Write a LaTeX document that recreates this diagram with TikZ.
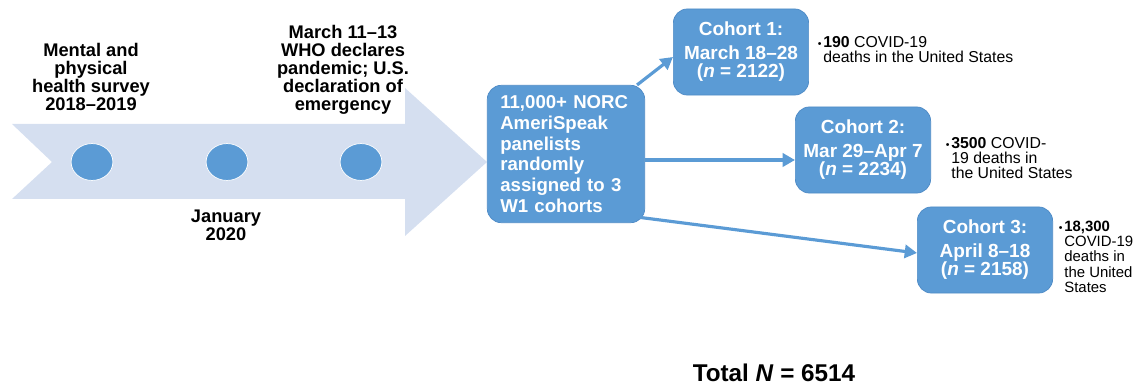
\documentclass[tikz,border=0pt]{standalone}
\usepackage{fontspec}
\setmainfont{Liberation Sans}
\usepackage{tikz}
\usetikzlibrary{positioning,calc,arrows.meta,shapes.geometric}
\definecolor{panelblue}{HTML}{5B9BD5}
\definecolor{timelineblue}{HTML}{D5DFF0}
\definecolor{edgeblue}{HTML}{4F8BC6}

\begin{document}
\begin{tikzpicture}[x=0.02cm,y=-0.02cm,
	event/.style={align=center,inner sep=0pt,font=\fontsize{10.4}{10.2}\selectfont\bfseries},
	dot/.style={ellipse,minimum width=23.8pt,minimum height=21pt,inner sep=0pt,fill=panelblue,draw=white,thin},
	cohort/.style={rectangle,rounded corners=8pt,fill=panelblue,draw=edgeblue,line width=0.4pt,minimum width=77pt,minimum height=49pt,align=center,text=white,font=\fontsize{10.8}{10.5}\selectfont\bfseries},
	deaths/.style={anchor=north west,align=left,inner sep=0pt,font=\fontsize{9}{8.6}\selectfont},
	flow/.style={panelblue,line width=1.8pt,-{Triangle[length=7pt,width=7.5pt]}}]

	\useasboundingbox (0,0) rectangle (1137,385);

	% timeline arrow
	\fill[timelineblue] (12,124) -- (405,124) -- (405,88) -- (487,162) -- (405,236) -- (405,199) -- (12,199) -- (52,162) -- cycle;

	\node[dot] (d1) at (92,162) {};
	\node[dot] (d2) at (227,162) {};
	\node[dot] (d3) at (361,162) {};

	\node[event,anchor=north] (survey) at (91,43) {Mental and\\physical\\health survey\\2018\textendash2019};
	\node[event,anchor=north] (january) at (226,210) {January\\2020};
	\node[event,anchor=north] (who) at (343,25) {March 11\textendash13\\WHO declares\\pandemic; U.S.\\declaration of\\emergency};

	% panel and cohorts
	\node[rectangle,rounded corners=8pt,fill=panelblue,draw=edgeblue,line width=0.4pt,minimum width=89.6pt,minimum height=78.2pt,text width=74.8pt,inner xsep=7.4pt,align=left,text=white,font=\fontsize{10.6}{11.8}\selectfont\bfseries] (nrc) at (566,154) {11,000+ NORC\\AmeriSpeak\\panelists\\randomly\\assigned to 3\\W1 cohorts};

	\node[cohort] (c1) at (741,52) {Cohort 1:\\[3pt]March 18\textendash28\\(\textit{n} = 2122)};
	\node[cohort] (c2) at (863,150) {Cohort 2:\\[3pt]Mar 29\textendash Apr 7\\(\textit{n} = 2234)};
	\node[cohort] (c3) at (985,250) {Cohort 3:\\[3pt]April 8\textendash18\\(\textit{n} = 2158)};

	\node[deaths] (n1) at (823,36) {\llap{{\fontsize{6}{6}\selectfont\textbullet}\hspace{1pt}}\textbf{190} COVID-19\\deaths in the United States};
	\node[deaths] (n2) at (951,137) {\llap{{\fontsize{6}{6}\selectfont\textbullet}\hspace{1pt}}\textbf{3500} COVID-\\19 deaths in\\the United States};
	\node[deaths,font=\fontsize{8.5}{8.6}\selectfont] (n3) at (1064,221) {\llap{{\fontsize{6}{6}\selectfont\textbullet}\hspace{1pt}}\textbf{18,300}\\COVID-19\\deaths in\\the United\\States};

	\node[font=\fontsize{13.8}{16}\selectfont\bfseries] (total) at (774,373) {Total \textit{N} = 6514};

	\draw[flow] ($(nrc.north east)+(-8,0)$) -- ($(c1.west)+(0,5)$);
	\draw[flow] ($(nrc.east)+(0,6)$) -- ($(c2.west)+(0,10)$);
	\draw[flow] ($(nrc.south east)+(-8,-6)$) -- ($(c3.west)+(0,3)$);
\end{tikzpicture}
\end{document}
